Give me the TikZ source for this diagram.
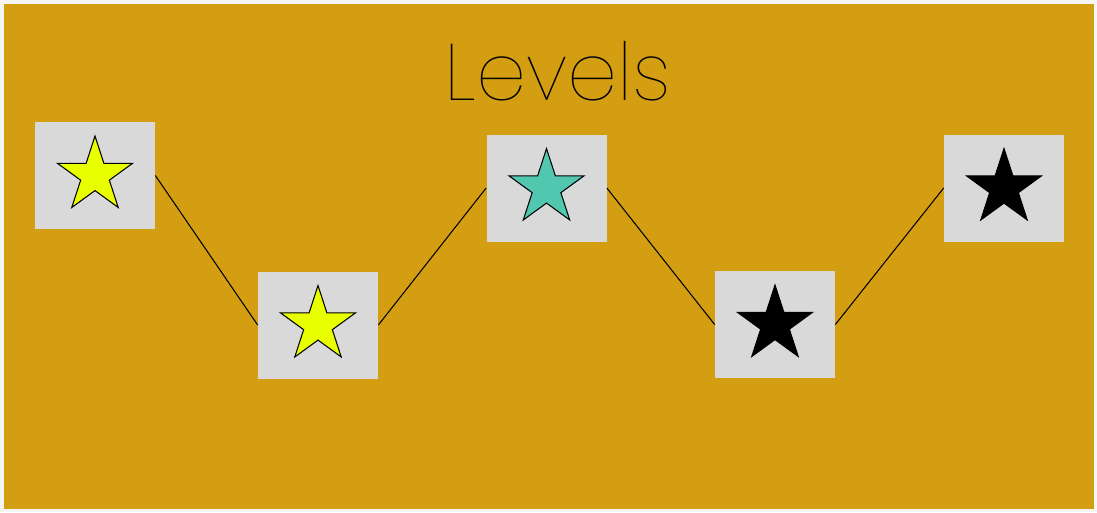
\documentclass[tikz,border=0pt]{standalone}
\usepackage{fontspec}
\newfontfamily\titlefont{Poppins Thin}
\usetikzlibrary{shapes.geometric}
\definecolor{pagegray}{HTML}{F5F5F5}
\definecolor{gold}{HTML}{D49E12}
\definecolor{boxgray}{HTML}{D9D9D9}
\definecolor{staryellow}{HTML}{E8FF00}
\definecolor{starteal}{HTML}{52C7B0}

\begin{document}
\begin{tikzpicture}[x=0.02cm,y=-0.02cm,
    levelbox/.style={fill=boxgray,minimum width=2.4cm,minimum height=2.14cm,inner sep=0pt},
    levelstar/.style={star,star points=5,star point ratio=2.618,minimum size=1.58cm,
      inner sep=0pt,draw=black,line width=0.6pt,fill=#1},
    link/.style={draw=black,line width=0.6pt}]
  % page and the gold panel
  \fill[pagegray] (0,0) rectangle (1097,512);
  \fill[gold] (4,4) rectangle (1094,509);
  \node[font=\titlefont\fontsize{45.5}{50}\selectfont,anchor=base] (title) at (558,100) {Levels};
  % the five levels, down and up
  \node[levelbox] (l1) at (95,175.5) {};
  \node[levelbox] (l2) at (318,325) {};
  \node[levelbox] (l3) at (546.5,188) {};
  \node[levelbox] (l4) at (775,324.5) {};
  \node[levelbox] (l5) at (1004,188) {};
  \node[levelstar=staryellow] (s1) at (l1) {};
  \node[levelstar=staryellow] (s2) at (l2) {};
  \node[levelstar=starteal] (s3) at (l3) {};
  \node[levelstar=black] (s4) at (l4) {};
  \node[levelstar=black] (s5) at (l5) {};
  % connectors
  \draw[link] (l1.east) -- (l2.west);
  \draw[link] (l2.east) -- (l3.west);
  \draw[link] (l3.east) -- (l4.west);
  \draw[link] (l4.east) -- (l5.west);
\end{tikzpicture}
\end{document}
